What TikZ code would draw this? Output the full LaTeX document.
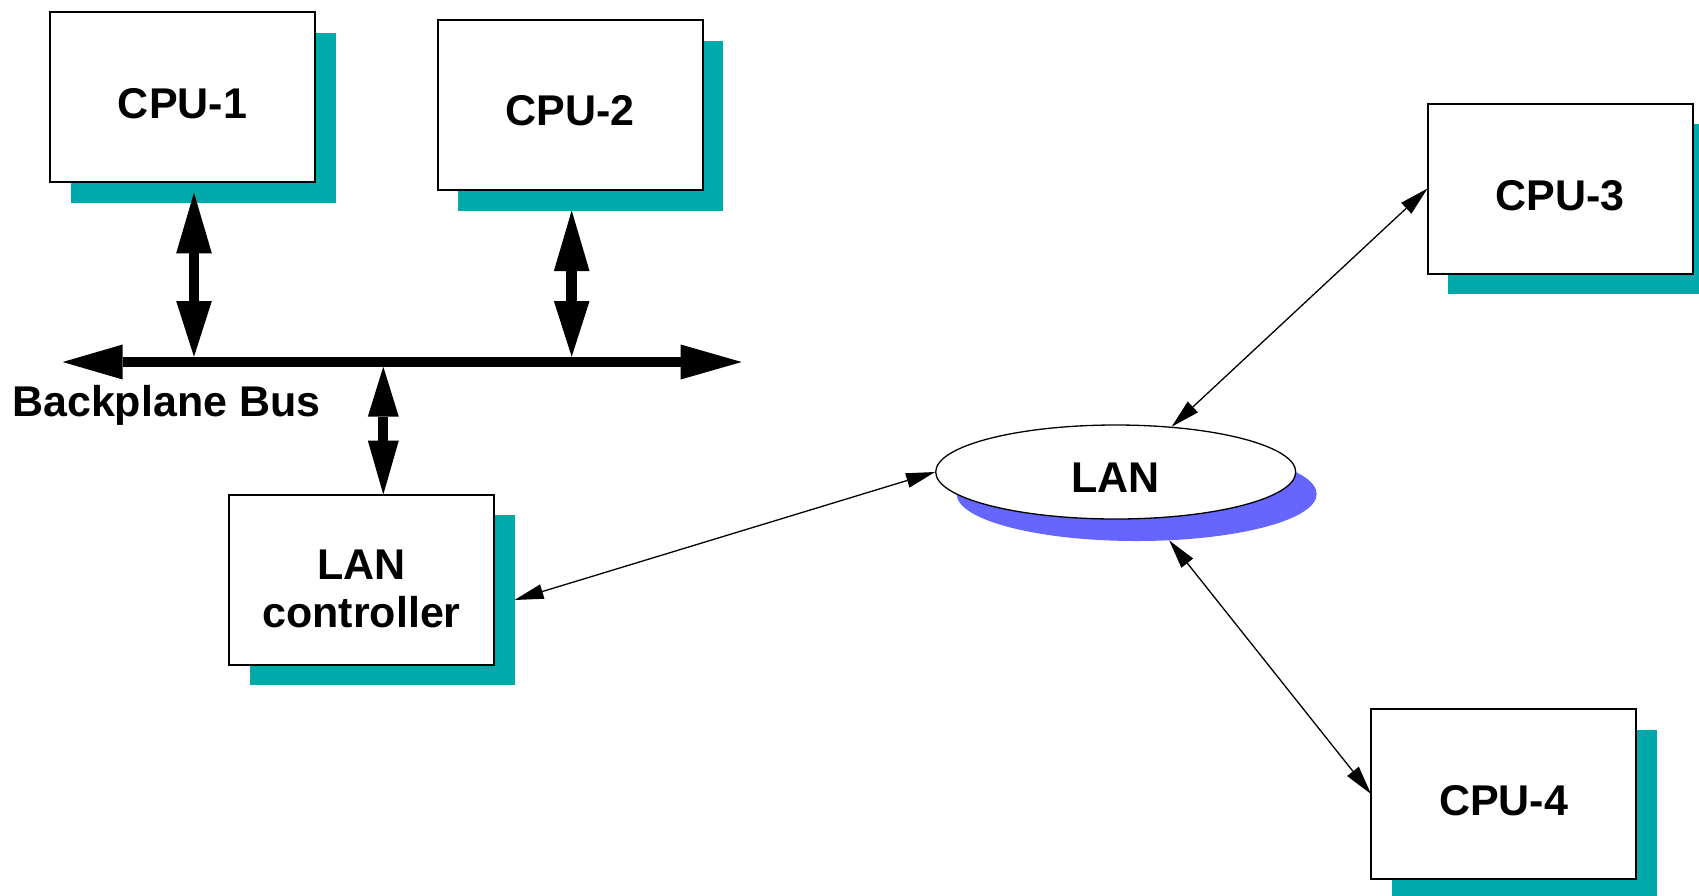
\documentclass[tikz,border=0pt]{standalone}
\usepackage{fontspec}
\setmainfont{Liberation Sans}
\usetikzlibrary{arrows.meta,shapes.geometric,calc}

\definecolor{shadowteal}{RGB}{0,170,170}
\definecolor{lanblue}{RGB}{102,102,255}

\begin{document}
\begin{tikzpicture}[x=1pt,y=-1pt,
  unit shadow/.style={fill=shadowteal, minimum width=265pt, minimum height=170pt,
    inner sep=0pt, outer sep=0pt},
  unit box/.style={draw=black, line width=2pt, fill=white, minimum width=265pt,
    minimum height=170pt, inner sep=0pt, outer sep=0pt},
  box label/.style={font=\fontsize{43}{48}\selectfont\bfseries, inner sep=0pt, anchor=base},
  bus label/.style={font=\fontsize{43}{48}\selectfont\bfseries, inner sep=0pt, anchor=base west},
  net shadow/.style={ellipse, fill=lanblue, minimum width=360pt, minimum height=94pt, inner sep=0pt},
  net cloud/.style={ellipse, draw=black, line width=1.3pt, fill=white, minimum width=360pt,
    minimum height=94pt, inner sep=0pt},
  bus line/.style={line width=10.5pt,
    {Triangle[length=60pt,width=35pt,line width=0pt]}-{Triangle[length=61pt,width=35pt,line width=0pt]}},
  fat link/.style={line width=10.5pt,
    {Triangle[length=60.6pt,width=35.7pt,line width=0pt]}-{Triangle[length=55.7pt,width=35.7pt,line width=0pt]}},
  fat link small/.style={line width=10.3pt,
    {Triangle[length=50pt,width=31pt,line width=0pt]}-{Triangle[length=54pt,width=31pt,line width=0pt]}},
  thin link/.style={line width=1.3pt,
    {Triangle[length=29pt,width=15pt,line width=0pt]}-{Triangle[length=29pt,width=15pt,line width=0pt]}}
]
\useasboundingbox (0,0) rectangle (1699,895);

% drop shadows of the processor boxes
\node[unit shadow] (cpu1sh) at (203,117.5) {};
\node[unit shadow] (cpu2sh) at (590.5,125.5) {};
\node[unit shadow] (cpu3sh) at (1580.5,209) {};
\node[unit shadow] (cpu4sh) at (1524,814.5) {};
\node[unit shadow] (lancsh) at (382,600) {};

% processor boxes
\node[unit box] (cpu1) at (182.5,97) {};
\node[unit box] (cpu2) at (570,105) {};
\node[unit box] (cpu3) at (1560,188.5) {};
\node[unit box] (cpu4) at (1503.5,794) {};
\node[unit box] (lanc) at (361.5,579.5) {};

\node[box label] (cpu1-text) at ([yshift=-21pt]cpu1.center) {CPU-1};
\node[box label] (cpu2-text) at ([yshift=-20pt]cpu2.center) {CPU-2};
\node[box label] (cpu3-text) at ([yshift=-21.5pt]cpu3.center) {CPU-3};
\node[box label] (cpu4-text) at ([yshift=-21pt]cpu4.center) {CPU-4};
\node[box label, anchor=center, align=center] (lanc-text) at ([yshift=-9pt]lanc.center) {LAN\\controller};

% the network
\node[net shadow] (lansh) at (1136.7,494) {};
\node[net cloud] (lan) at (1115.7,472) {};
\node[box label] (lan-text) at ([yshift=-20pt]lan.center) {LAN};

% backplane bus and its taps
\coordinate (busL) at (62.7,362);
\coordinate (busR) at (741.7,362);
\coordinate (tap1) at (194,362);
\coordinate (tap2) at (571.7,362);
\coordinate (tap3) at (383.3,362);
\draw[bus line] (busL) -- (busR);
\node[bus label] (bus-text) at (12,416.7) {Backplane Bus};

\draw[fat link] ($(cpu1.south -| tap1)+(0,10.7)$) -- ($(tap1)+(0,-5.3)$);
\draw[fat link] (cpu2sh.south -| tap2) -- ($(tap2)+(0,-5.3)$);
\draw[fat link small] ($(tap3)+(0,4.7)$) -- (lanc.north -| tap3);

% network links
\draw[thin link] (lancsh.east) -- (lan.west);
\draw[thin link] (lan.39.5) -- (cpu3.west);
\draw[thin link] (lansh.-55) -- (cpu4.west);
\end{tikzpicture}
\end{document}
